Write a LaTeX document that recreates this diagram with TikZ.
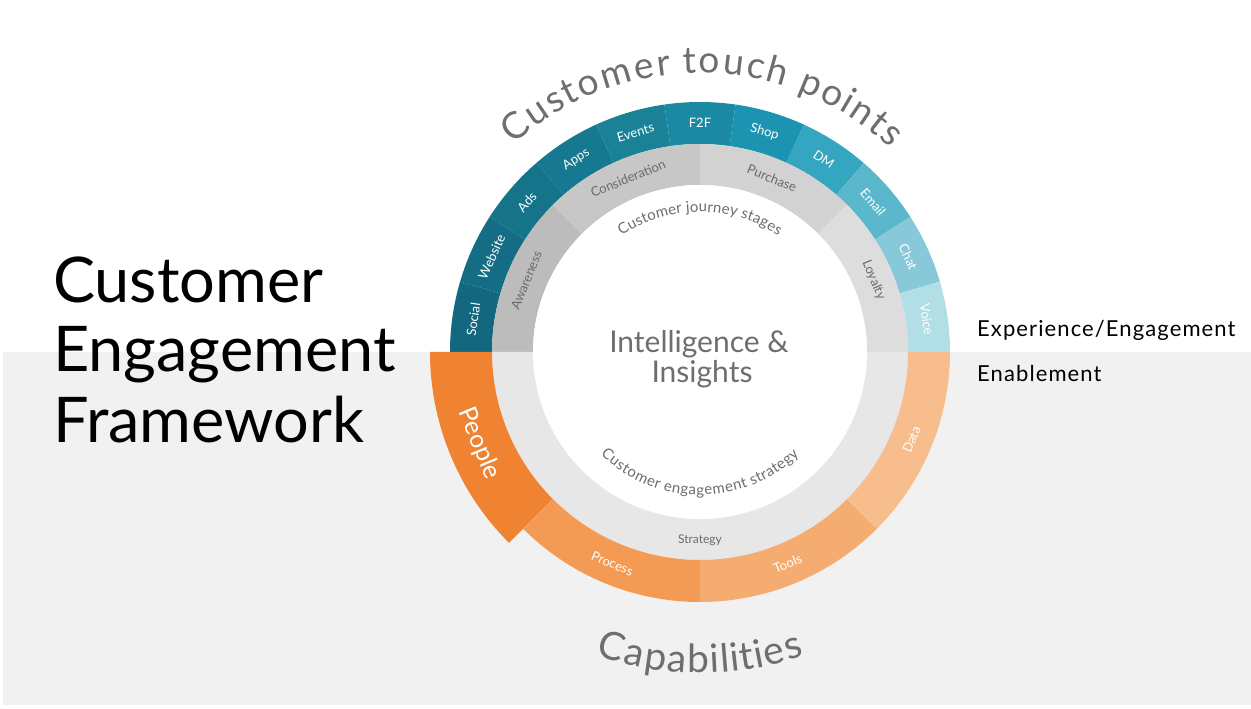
\documentclass[tikz,border=0pt]{standalone}
\usepackage{fontspec}
\setmainfont{Lato}
\usetikzlibrary{decorations.text}
\definecolor{bggrey}{HTML}{F1F1F1}
\definecolor{tgrey}{HTML}{6E6E6E}
\definecolor{sgrey}{HTML}{6A6A6A}
\definecolor{tp0}{HTML}{13677E}
\definecolor{tp1}{HTML}{146D84}
\definecolor{tp2}{HTML}{15738A}
\definecolor{tp3}{HTML}{167990}
\definecolor{tp4}{HTML}{198297}
\definecolor{tp5}{HTML}{1A8AA4}
\definecolor{tp6}{HTML}{1B93B1}
\definecolor{tp7}{HTML}{35A6BF}
\definecolor{tp8}{HTML}{5BB7CC}
\definecolor{tp9}{HTML}{87C9D8}
\definecolor{tp10}{HTML}{B2DEE6}
\definecolor{stA}{HTML}{BCBCBC}
\definecolor{stB}{HTML}{C8C7C7}
\definecolor{stC}{HTML}{D3D2D2}
\definecolor{stD}{HTML}{DDDDDD}
\definecolor{strat}{HTML}{E7E7E7}
\definecolor{cpeople}{HTML}{F08331}
\definecolor{cprocess}{HTML}{F39B55}
\definecolor{ctools}{HTML}{F5AC70}
\definecolor{cdata}{HTML}{F7BD8C}
\newcommand\fsz[1]{\fontsize{#1}{#1}\selectfont}
\newcommand\annseg[5]{\fill[#5] (#1:#3) arc[start angle=#1,end angle=#2,radius=#3] -- (#2:#4) arc[start angle=#2,end angle=#1,radius=#4] -- cycle;}
\tikzset{
  tplabel/.style={text=white, font=\fsz{13}, inner sep=0pt, anchor=center},
  stlabel/.style={text=sgrey, font=\fsz{13}, inner sep=0pt, anchor=center},
  curvetext/.style n args={3}{decorate, decoration={text effects along path, text={#1},
     text effects/.cd, text along path, fit text to path, characters={font=\fsz{#2}, text=#3}}}
}
\begin{document}
\begin{tikzpicture}[x=1pt,y=1pt]
\useasboundingbox (-700,-357) rectangle (551,352);
\fill[white] (-700,-357) rectangle (551,352);
\fill[bggrey] (-697,-353) rectangle (551,0);
% touch points ring
\foreach \lab/\col [count=\k from 0] in {Social/tp0,Website/tp1,Ads/tp2,Apps/tp3,Events/tp4,F2F/tp5,Shop/tp6,DM/tp7,Email/tp8,Chat/tp9,Voice/tp10}{
  \pgfmathsetmacro\aS{180-\k*180/11}
  \pgfmathsetmacro\aE{180-(\k+1)*180/11}
  \pgfmathsetmacro\aM{180-(\k+0.5)*180/11}
  \annseg{\aS}{\aE}{250}{208}{\col}
  \node[tplabel, rotate=\aM-90] (tp\k) at (\aM:229) {\lab};
}
% journey stages ring
\annseg{135}{180}{208}{167}{stA}
\annseg{90}{135}{208}{167}{stB}
\annseg{45}{90}{208}{167}{stC}
\annseg{0}{45}{208}{167}{stD}
\node[stlabel, rotate=67.5] (awareness) at (157.5:188) {Awareness};
\node[stlabel, rotate=22.5] (consideration) at (112.5:188) {Consideration};
\node[stlabel, rotate=-22.5] (purchase) at (67.5:188) {Purchase};
\node[stlabel, rotate=-67.5] (loyalty) at (22.5:188) {Loyalty};
% enablement
\annseg{180}{360}{208}{167}{strat}
\annseg{180}{225}{270}{208}{cpeople}
\annseg{225}{270}{250}{208}{cprocess}
\annseg{270}{315}{250}{208}{ctools}
\annseg{315}{360}{250}{208}{cdata}
\node[tplabel, font=\fsz{25}, rotate=292.5] (people) at (202.5:239) {People};
\node[tplabel, rotate=-22.5] (process) at (247.5:229) {Process};
\node[tplabel, rotate=22.5] (tools) at (292.5:229) {Tools};
\node[tplabel, rotate=67.5] (data) at (337.5:229) {Data};
\node[stlabel, font=\fsz{12}] (strategy) at (270:188) {Strategy};
% centre
\fill[white] (0,0) circle[radius=167];
\node[text=tgrey, font=\fsz{30}, inner sep=0pt, anchor=base] (intel) at (-1,-1) {Intelligence \&};
\node[text=tgrey, font=\fsz{30}, inner sep=0pt, anchor=base] (insights) at (2,-31) {Insights};
% curved texts
\path[curvetext={Customer touch points}{37}{tgrey}] (132:279) arc[start angle=132, end angle=47, radius=279];
\path[curvetext={Customer journey stages}{15}{tgrey}] (124:140) arc[start angle=124, end angle=56, radius=140];
\path[curvetext={Customer engagement strategy}{15}{tgrey}] (226:143) arc[start angle=226, end angle=314, radius=143];
\path[curvetext={Capabilities}{39}{tgrey}] (251:321) arc[start angle=251, end angle=289, radius=321];
% title and side labels
\node[font=\fsz{63}, inner sep=0pt, anchor=base west] (t1) at (-647,49) {Customer};
\node[font=\fsz{63}, inner sep=0pt, anchor=base west] (t2) at (-647,-20) {Engagement};
\node[font=\fsz{63}, inner sep=0pt, anchor=base west] (t3) at (-647,-91) {Framework};
\node[font=\fsz{22}\addfontfeature{LetterSpace=5}, inner sep=0pt, anchor=base west] (exp) at (277,15) {Experience/Engagement};
\node[font=\fsz{22}\addfontfeature{LetterSpace=5}, inner sep=0pt, anchor=base west] (enab) at (277,-30) {Enablement};
\end{tikzpicture}
\end{document}
